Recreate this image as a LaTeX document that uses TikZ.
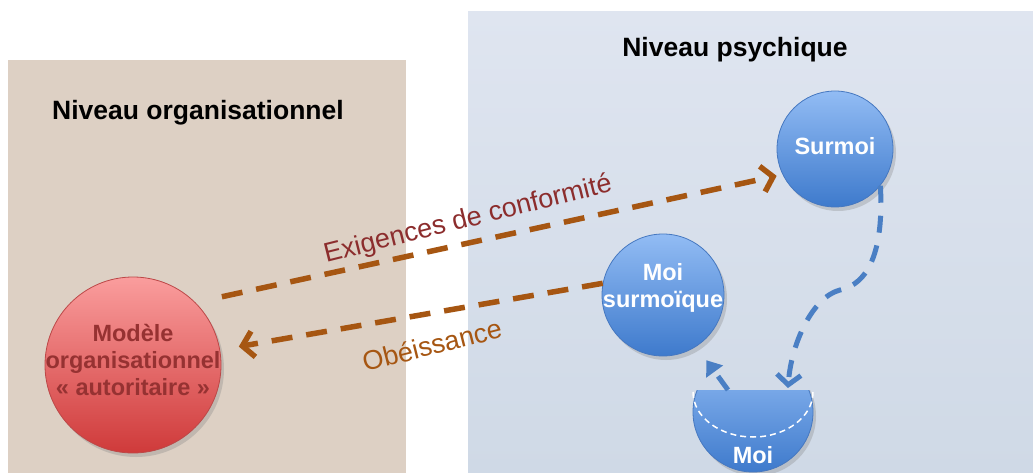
\documentclass[tikz,border=0pt]{standalone}
\usepackage{fontspec}
\setmainfont{Liberation Sans}
\usetikzlibrary{arrows.meta,positioning,shadows}

\definecolor{orgfill}{RGB}{221,208,196}
\definecolor{psytop}{RGB}{223,229,240}
\definecolor{psybottom}{RGB}{207,217,230}
\definecolor{redtop}{RGB}{250,157,157}
\definecolor{redbottom}{RGB}{207,58,58}
\definecolor{rededge}{RGB}{188,72,72}
\definecolor{redtext}{RGB}{150,50,50}
\definecolor{bluetop}{RGB}{146,188,244}
\definecolor{bluebottom}{RGB}{62,122,204}
\definecolor{blueedge}{RGB}{70,120,192}
\definecolor{flowbrown}{RGB}{166,86,18}
\definecolor{demandred}{RGB}{140,45,45}
\definecolor{linkblue}{RGB}{74,127,196}

\begin{document}
\begin{tikzpicture}[
x=1pt, y=-1pt,
panel/.style={
draw=none,
inner sep=0,
anchor=north west
},
title/.style={
font=\bfseries\fontsize{26.5}{32}\selectfont
},
redbubble/.style={
circle,
inner sep=0,
draw=rededge,
line width=0.8pt,
top color=redtop,
bottom color=redbottom,
drop shadow={opacity=0.3, shadow xshift=3pt, shadow yshift=-4pt}
},
bluebubble/.style={
circle,
inner sep=0,
draw=blueedge,
line width=0.8pt,
top color=bluetop,
bottom color=bluebottom,
drop shadow={opacity=0.3, shadow xshift=3pt, shadow yshift=-4pt}
},
bubbletext/.style={
text=white,
align=center,
font=\bfseries\fontsize{23.5}{27}\selectfont
},
orgtext/.style={
text=redtext,
align=center,
font=\bfseries\fontsize{23.5}{27}\selectfont
},
flow/.style={
draw=flowbrown,
line width=5.5pt,
dash pattern=on 21pt off 14pt,
-{Straight Barb[length=11pt,width=26pt]}
},
link/.style={
draw=linkblue,
line width=5pt,
dash pattern=on 17pt off 13pt
},
flowlabel/.style={
rotate=14,
font=\fontsize{27}{32}\selectfont
}
]

\fill[white] (0,0) rectangle (1033,473);
\useasboundingbox (0,0) rectangle (1033,473);

% panels
\node[panel, fill=orgfill, minimum width=398pt, minimum height=413pt] (orgbox) at (8,60) {};
\node[panel, top color=psytop, bottom color=psybottom, minimum width=565pt, minimum height=462pt] (psybox) at (468,11) {};

\node[title] (orgtitle) at (198,113) {Niveau organisationnel};
\node[title] (psytitle) at (735,50) {Niveau psychique};

% bubbles
\node[redbubble, minimum size=176pt] (org) at (133,365) {};
\node[orgtext] (orglbl) at ([yshift=5pt]org.center) {Modèle\\organisationnel\\« autoritaire »};

\node[bluebubble, minimum size=116pt] (surmoi) at (835,149) {};
\node[bubbletext] (surmoilbl) at ([yshift=3pt]surmoi.center) {Surmoi};

\node[bluebubble, minimum size=122pt] (ms) at (663,295) {};
\node[bubbletext] (mslbl) at ([yshift=7pt]ms.center) {Moi\\surmoïque};

\begin{scope}
\clip (680,390) rectangle (840,480);
\node[bluebubble, minimum size=120pt] (moi) at (753,412) {};
\end{scope}
\draw[white, line width=1.5pt, dash pattern=on 6pt off 4pt]
  (693,392) arc[start angle=180, end angle=0, x radius=60, y radius=45];
\node[bubbletext] (moilbl) at ([yshift=-43pt]moi.center) {Moi};

% arrows
\draw[flow, shorten <=27pt, shorten >=6pt] (org.north east) -- (surmoi.206);
\node[flowlabel, text=demandred] (exig) at (468,220) {Exigences de conformité};
\draw[flow, shorten >=19pt] (ms.169) -- (org);
\node[flowlabel, text=flowbrown] (obeis) at (432,345) {Obéissance};

\coordinate (bend) at (840,290);
\draw[link, -{Straight Barb[length=10pt,width=24pt]}]
  (surmoi.-39) .. controls (884,252) and (868,284) .. (bend)
  .. controls (812,297) and (791,345) .. ([shift={(35pt,24pt)}]moi.center);
\draw[link, -{Triangle[length=14pt,width=20pt]}, shorten >=17pt]
  ([shift={(-25pt,22pt)}]moi.center) -- (ms.-57);

\end{tikzpicture}
\end{document}
